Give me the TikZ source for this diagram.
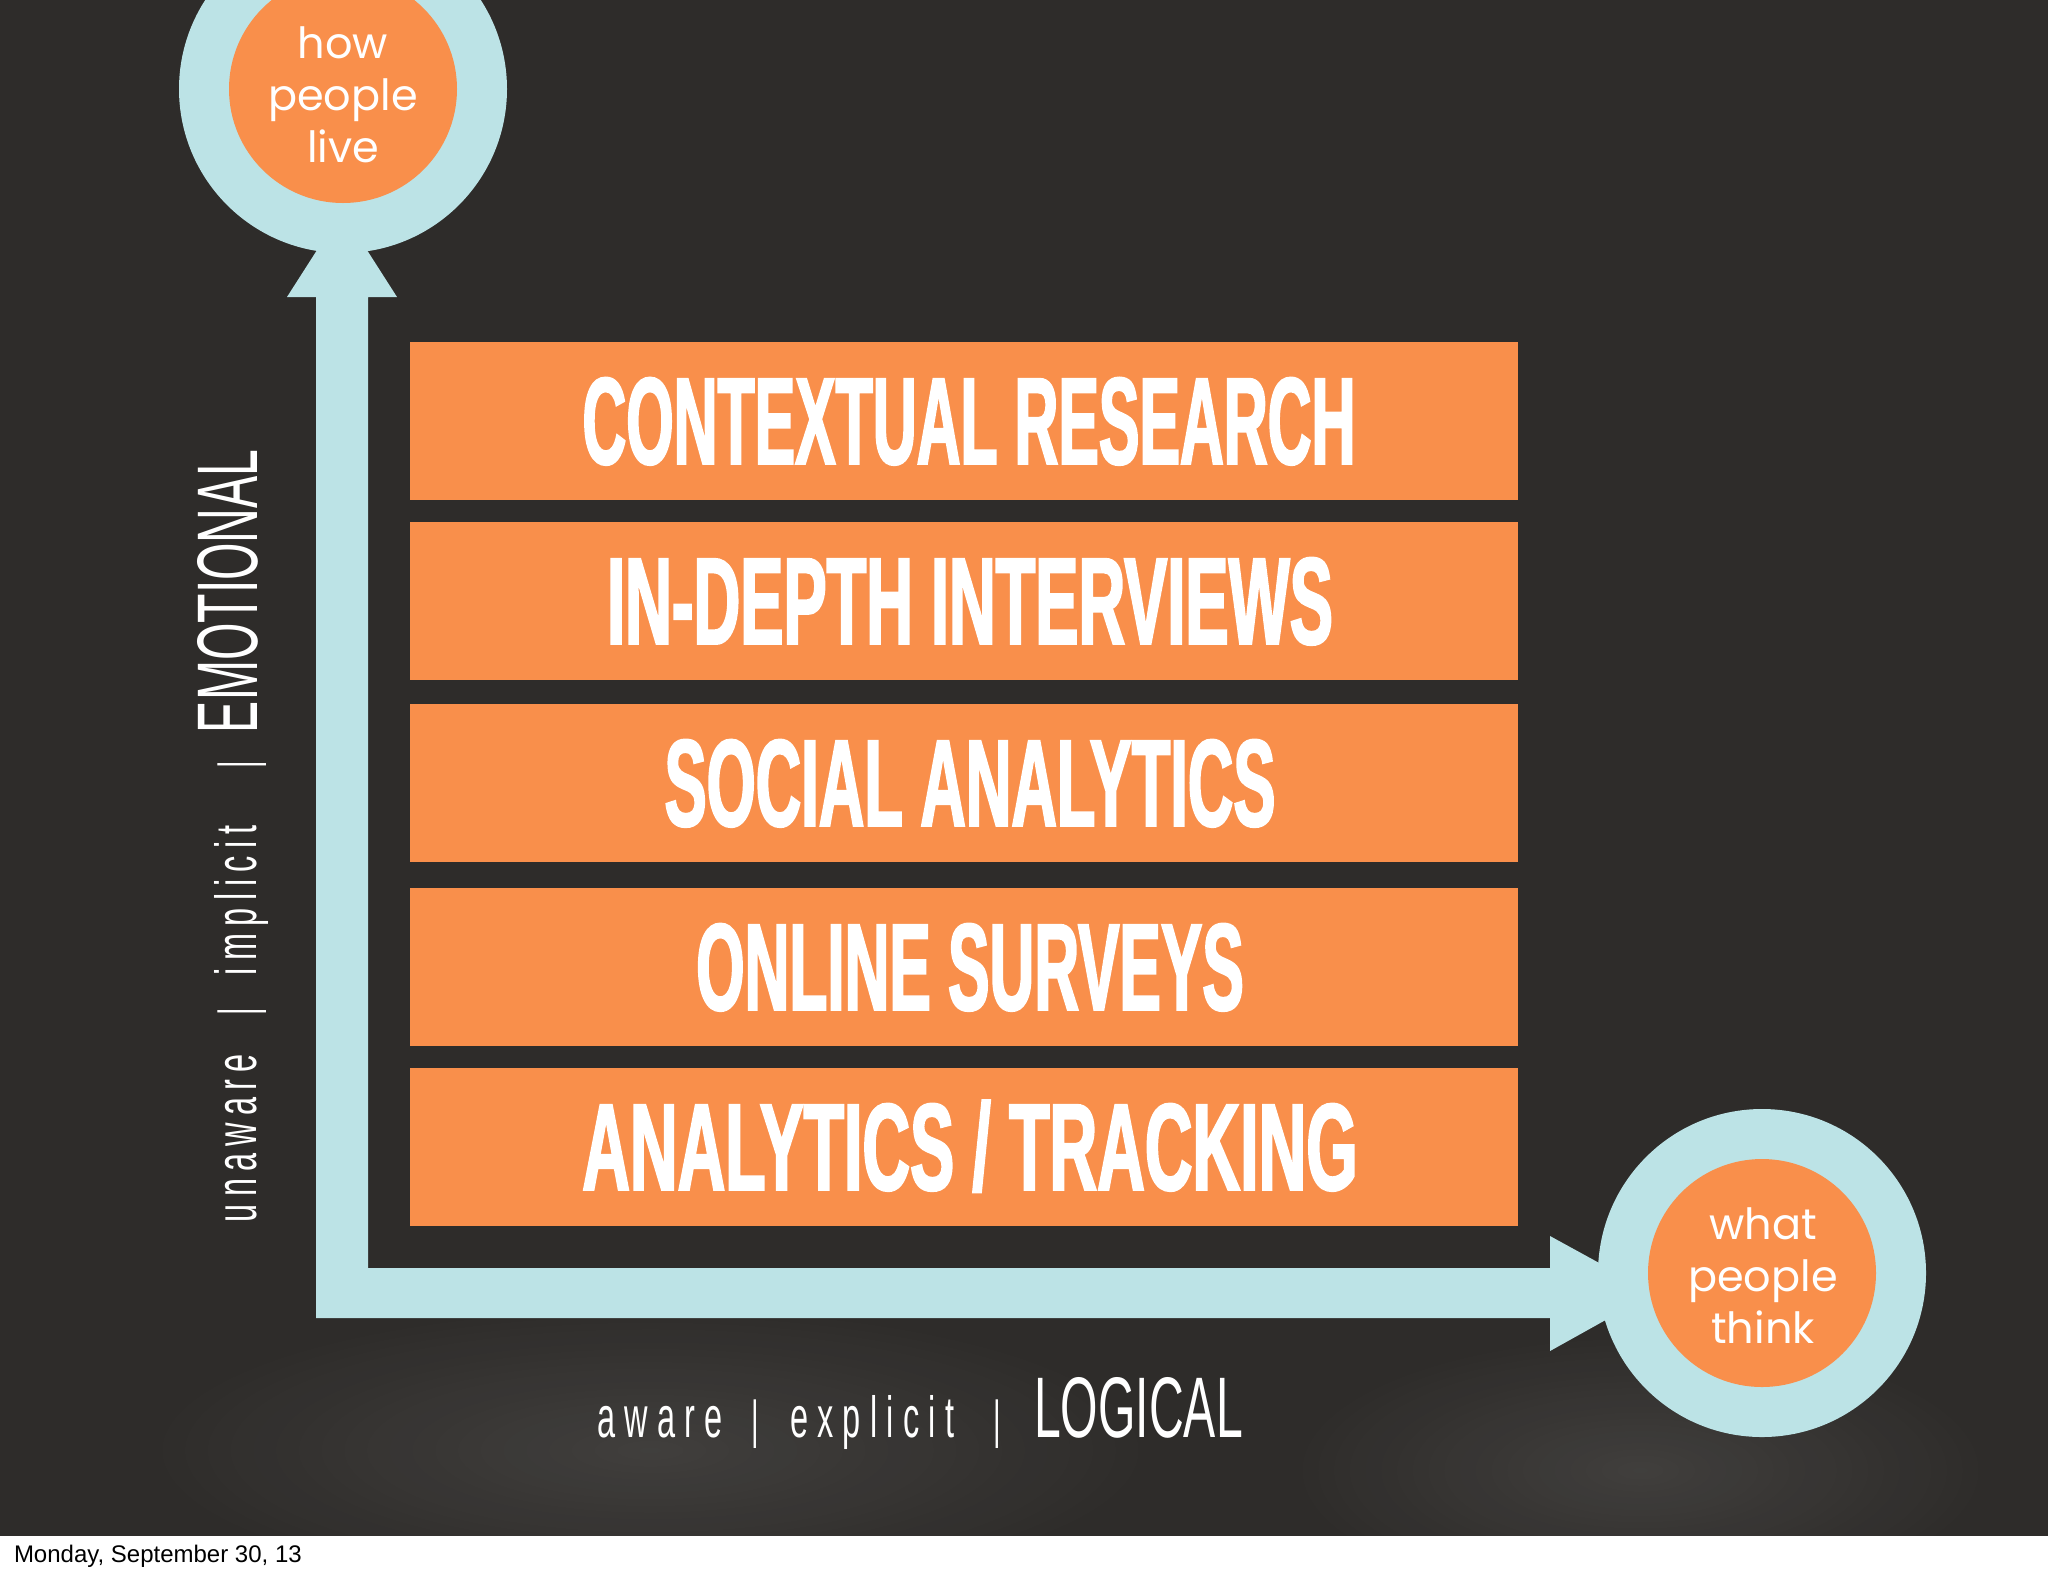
\documentclass[tikz,border=0pt]{standalone}
\usepackage{fontspec}
\usepackage{graphicx}
\usetikzlibrary{fadings}
\setmainfont{Liberation Sans}
\newfontfamily\boxfont{Liberation Sans}[FakeStretch=0.49,FakeBold=1.5]
\newfontfamily\condfont{Liberation Sans}[FakeStretch=0.56]
\newfontfamily\condspaced{Liberation Sans}[FakeStretch=0.56,LetterSpace=16]
\newfontfamily\condspacedv{Liberation Sans}[FakeStretch=0.56,LetterSpace=12.5]
\newfontfamily\roundfont{Poppins}
\definecolor{bgdark}{HTML}{2E2C2A}
\definecolor{boxorange}{HTML}{F98F4B}
\definecolor{axisblue}{HTML}{BCE3E6}
\tikzfading[name=fuzzy,inner color=transparent!91,outer color=transparent!100]
\begin{document}
\begin{tikzpicture}[x=0.5pt,y=-0.5pt,
  every node/.style={inner sep=0pt,outer sep=0pt},
  stagebox/.style={fill=boxorange,minimum width=554pt,minimum height=79pt,anchor=north west},
  boxlabel/.style={anchor=base,text=white,font=\boxfont\bfseries\fontsize{62pt}{62pt}\selectfont},
  ringc/.style={circle,fill=axisblue,minimum size=164pt},
  corec/.style={circle,fill=boxorange,minimum size=114pt},
  circtext/.style={text=white,align=center,font=\roundfont\fontsize{21.5pt}{26pt}\selectfont},
  smalllab/.style={anchor=base west,text=white,font=\condspaced\fontsize{29pt}{29pt}\selectfont},
  smalllabv/.style={anchor=base west,text=white,font=\condspacedv\fontsize{29pt}{29pt}\selectfont},
  biglab/.style={anchor=base west,text=white,font=\condfont\fontsize{43pt}{43pt}\selectfont},
  barlab/.style={anchor=base,text=white,font=\condfont\fontsize{26pt}{26pt}\selectfont},
  haze/.style={fill=white,path fading=fuzzy}
]
\useasboundingbox (0,0) rectangle (2048,1576);
% background
\fill[bgdark] (0,0) rectangle (2048,1536);
\fill[white] (0,1536) rectangle (2048,1576);
\fill[haze] (1640,1470) ellipse (360 and 140);
\fill[haze] (650,1450) ellipse (520 and 150);
% axis arrow (L shape)
\coordinate (corner) at (316,1318);
\fill[axisblue] (corner) -- (316,297) -- (287,297) -- (342,211) -- (397,297) -- (368,297)
  -- (368,1268) -- (1550,1268) -- (1550,1236) -- (1654,1293) -- (1550,1351) -- (1550,1318) -- cycle;
% circles
\node[ringc] (liveRing) at (343,89) {};
\node[corec] (liveCore) at (343,89) {};
\node[circtext] (live) at (343,95) {how\\people\\live};
\node[ringc] (thinkRing) at (1762,1273) {};
\node[corec] (thinkCore) at (1762,1273) {};
\node[circtext] (think) at (1763,1276) {what\\people\\think};
% boxes
\node[stagebox] (b1) at (410,342) {};
\node[stagebox] (b2) at (410,522) {};
\node[stagebox] (b3) at (410,704) {};
\node[stagebox] (b4) at (410,888) {};
\node[stagebox] (b5) at (410,1068) {};
\node[boxlabel] (t1) at (969,464) {CONTEXTUAL RESEARCH};
\node[boxlabel] (t2) at (970,644) {\scalebox{1.066}[1]{IN-DEPTH INTERVIEWS}};
\node[boxlabel] (t3) at (970,826) {\scalebox{1.038}[1]{SOCIAL ANALYTICS}};
\node[boxlabel] (t4) at (970,1010) {\scalebox{1.022}[1]{ONLINE SURVEYS}};
\node[boxlabel] (t5) at (970,1190) {\scalebox{1.087}[1]{ANALYTICS / TRACKING}};
% bottom axis label
\node[smalllab] (aware) at (597,1437) {aware};
\node[barlab] (bar1) at (755,1437) {|};
\node[smalllab] (explicit) at (790,1437) {explicit};
\node[barlab] (bar2) at (997,1437) {|};
\node[biglab] (logical) at (1034,1437) {LOGICAL};
% left axis label
\node[smalllabv,rotate=90] (unaware) at (256,1222) {unaware};
\node[barlab,rotate=90] (bar3) at (255,1012) {|};
\node[smalllabv,rotate=90] (implicit) at (256,975) {implicit};
\node[barlab,rotate=90] (bar4) at (255,765) {|};
\node[biglab,rotate=90] (emotional) at (257,733) {EMOTIONAL};
% footer
\node[anchor=base west,text=black,font=\fontsize{12pt}{14pt}\selectfont] (footer) at (14,1562) {Monday, September 30, 13};
\end{tikzpicture}
\end{document}
